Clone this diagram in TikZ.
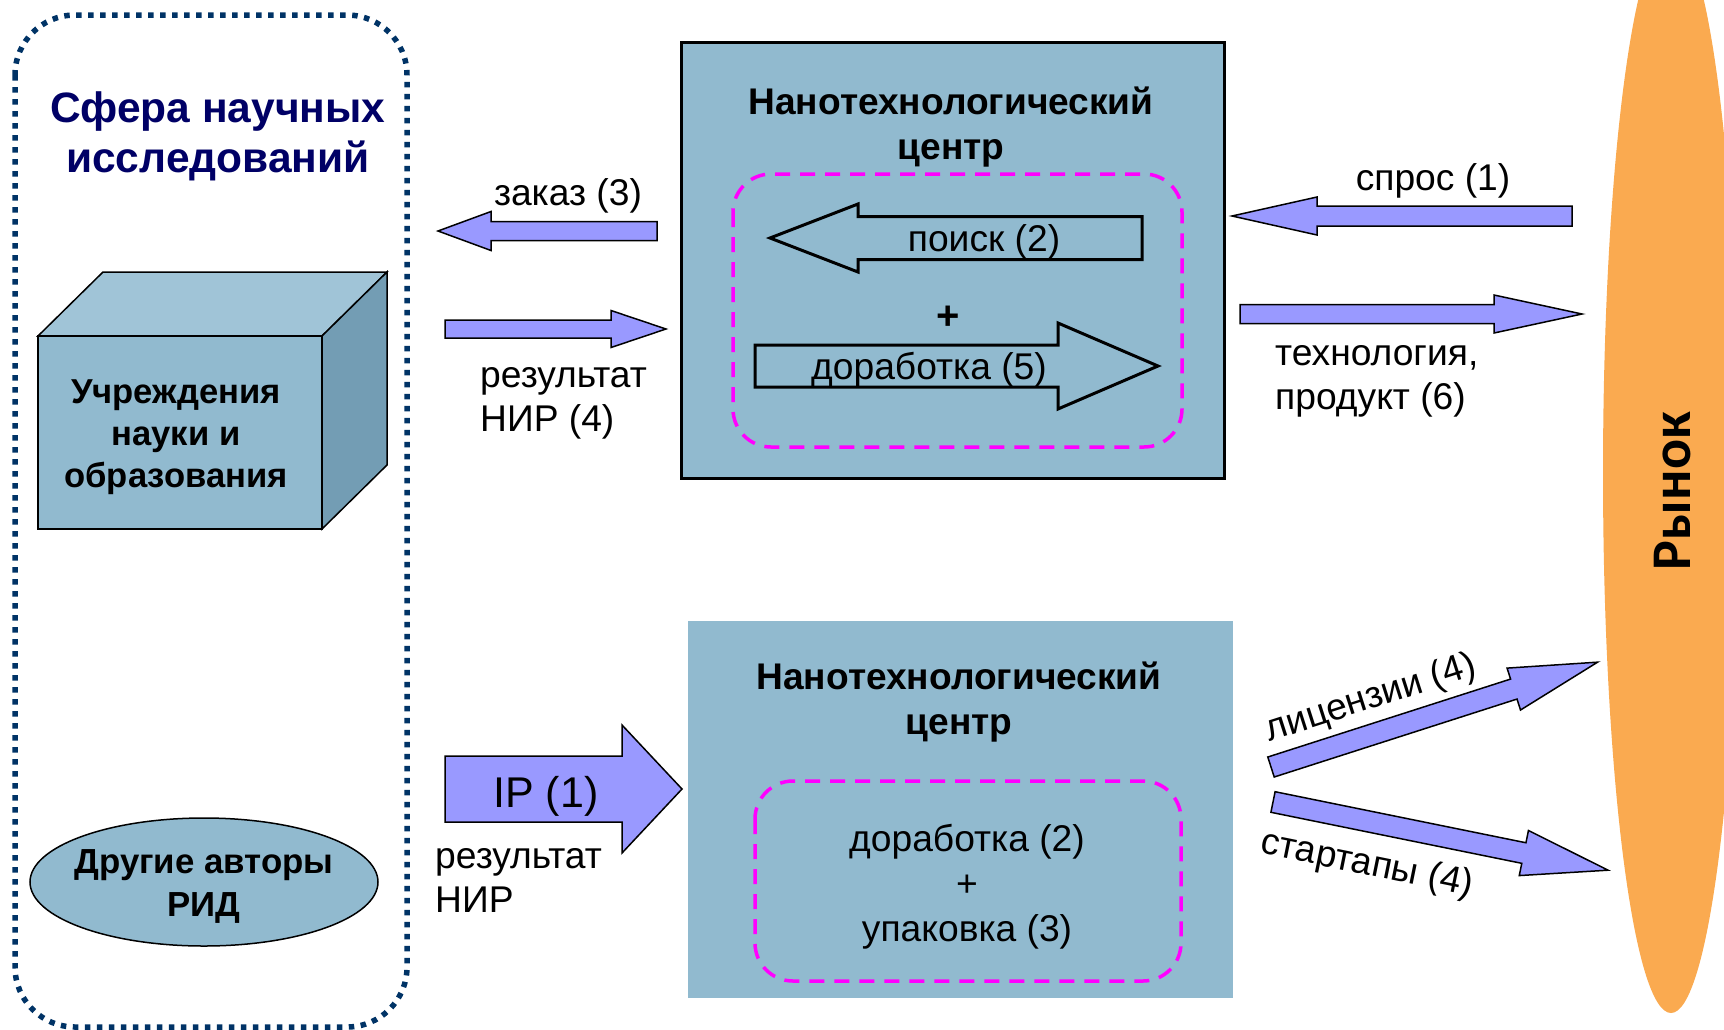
\documentclass[tikz,border=0pt]{standalone}
\usepackage{fontspec}
\setmainfont{Liberation Sans}
\newfontfamily\rynokfont{Carlito}
\usetikzlibrary{shapes.geometric}
\definecolor{boxblue}{RGB}{145,186,207}
\definecolor{boxtop}{RGB}{160,196,215}
\definecolor{boxside}{RGB}{115,157,180}
\definecolor{navy}{RGB}{0,0,102}
\definecolor{dotblue}{RGB}{0,51,102}
\definecolor{arrowfill}{RGB}{153,153,255}
\definecolor{market}{RGB}{250,170,80}
\definecolor{mag}{RGB}{255,0,255}
\tikzset{
 blockarrow/.style={draw=black, line width=1.5pt, fill=arrowfill, line join=miter},
 outlinearrow/.style={draw=black, line width=3pt, line join=miter},
 lbl/.style={inner sep=0pt, font=\fontsize{37.2}{44}\selectfont},
 btitle/.style={inner sep=0pt, align=center, font=\bfseries\fontsize{37.1}{45}\selectfont},
 magbox/.style={draw=mag, line width=3.5pt, dash pattern=on 15pt off 10pt, rounded corners=38pt},
 facestyle/.style={draw=black, line width=1.5pt, line join=miter},
}
% style, tail x, tail y, angle, length, shaft half, head half, head length
\newcommand\blkarrow[8]{%
 \draw[#1, shift={(#2,#3)}, rotate=#4] (0,#6) -- ({#5-#8},#6) -- ({#5-#8},#7) -- (#5,0) -- ({#5-#8},-#7) -- ({#5-#8},-#6) -- (0,-#6) -- cycle;}
\begin{document}
\begin{tikzpicture}[x=1pt,y=-1pt]
\useasboundingbox (0,0) rectangle (1724,1029);
\fill[white] (0,0) rectangle (1724,1029);
\clip (0,0) rectangle (1724,1029);

% market ellipse
\node[ellipse, fill=market, minimum width=136pt, minimum height=1080pt, inner sep=0pt] (market) at (1671,473) {};
\node[rotate=90, inner sep=0pt, font=\rynokfont\bfseries\fontsize{56}{60}\selectfont] (rynok) at (1673,491) {Рынок};

% sphere of research
\draw[dotblue, line width=5.5pt, dash pattern=on 5.5pt off 6.5pt, rounded corners=60pt] (15,15) rectangle (407,1027);
\node[inner sep=0pt, align=center, text=navy, font=\bfseries\fontsize{42.5}{50}\selectfont] (sphere) at (218,136) {Сфера научных\\исследований};

% cube
\draw[facestyle, fill=boxtop] (38,336) -- (103,272) -- (387,272) -- (322,336) -- cycle;
\draw[facestyle, fill=boxside] (322,336) -- (387,272) -- (387,465) -- (322,529) -- cycle;
\draw[facestyle, fill=boxblue] (38,336) rectangle (322,529);
\node[inner sep=0pt, align=center, font=\bfseries\fontsize{34.6}{42}\selectfont] (inst) at (176,437.5) {Учреждения\\науки и\\образования};

% other authors
\node[ellipse, draw=black, line width=1.5pt, fill=boxblue, minimum width=348pt, minimum height=128pt, inner sep=0pt] (authors) at (204,882) {};
\node[inner sep=0pt, align=center, font=\bfseries\fontsize{34.8}{43}\selectfont] (authorstxt) at (204,886) {Другие авторы\\РИД};

% top nanotech centre
\node[draw=black, line width=3pt, fill=boxblue, minimum width=543pt, minimum height=436pt, inner sep=0pt, anchor=north west] (nc1) at (680,41) {};
\node[btitle] (nc1title) at (951,127) {Нанотехнологический\\центр};
\draw[magbox] (733,174) rectangle (1182,447);
\blkarrow{outlinearrow}{1142}{238}{180}{372}{21.5}{34}{88}
\node[lbl] (poisk) at (984,242) {поиск (2)};
\node[inner sep=0pt, font=\bfseries\fontsize{40}{44}\selectfont] (plus1) at (948,318) {+};
\blkarrow{outlinearrow}{755}{366}{0}{403}{21}{43}{100}
\node[lbl] (dorab5) at (929,370) {доработка (5)};

% arrows between sphere and top centre
\blkarrow{blockarrow}{657}{231}{180}{219}{9.5}{19.5}{53}
\node[lbl] (zakaz) at (568,195.5) {заказ (3)};
\blkarrow{blockarrow}{445}{329}{0}{221}{9}{18.5}{55}
\node[lbl, align=left, anchor=west] (rez4) at (480,403) {результат\\НИР (4)};

% arrows between top centre and market
\blkarrow{blockarrow}{1572}{216}{180}{340}{10}{19}{85}
\node[lbl] (spros) at (1433,180.5) {спрос (1)};
\blkarrow{blockarrow}{1240}{314}{0}{342}{9.5}{19}{88}
\node[lbl, align=left, anchor=west] (tech) at (1275,381) {технология,\\продукт (6)};

% bottom nanotech centre
\node[fill=boxblue, minimum width=545pt, minimum height=377pt, inner sep=0pt, anchor=north west] (nc2) at (688,621) {};
\node[btitle] (nc2title) at (959,702.5) {Нанотехнологический\\центр};
\draw[magbox] (755,781) rectangle (1181,981);
\node[lbl, align=center, font=\fontsize{37.2}{45}\selectfont] (dorab2) at (967,887) {доработка (2)\\+\\упаковка (3)};

% IP arrow
\blkarrow{blockarrow}{445}{789}{0}{237}{33}{64}{60}
\node[inner sep=0pt, font=\fontsize{43}{48}\selectfont] (ip) at (546,796) {IP (1)};
\node[lbl, align=left, anchor=west] (rez) at (435,880) {результат\\НИР};

% licences and startups
\blkarrow{blockarrow}{1271}{767}{17.8}{343}{10.5}{22}{88}
\node[lbl, rotate=17.8] (lic) at (1371,699) {лицензии (4)};
\blkarrow{blockarrow}{1273}{802}{-11.5}{342}{10.5}{23}{86}
\node[lbl, rotate=-11.5] (start) at (1367,865) {стартапы (4)};
\end{tikzpicture}
\end{document}
